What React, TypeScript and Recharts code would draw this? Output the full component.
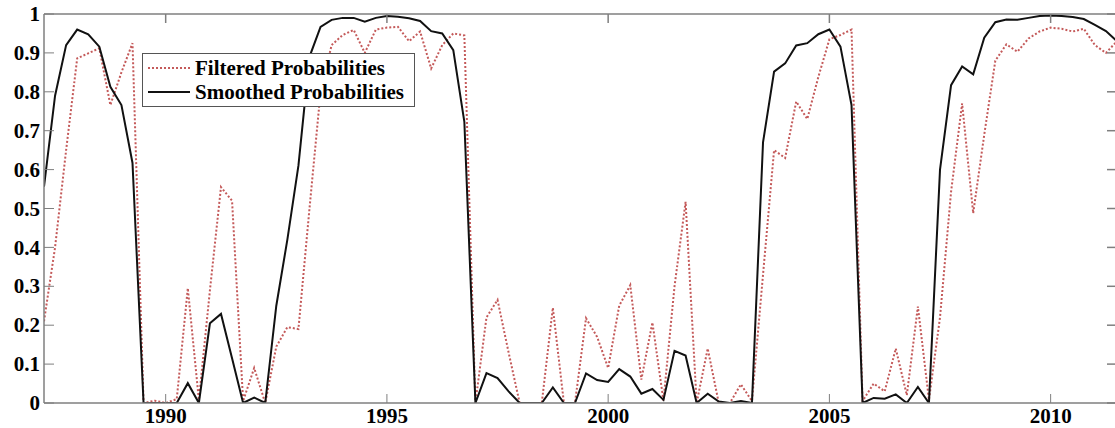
import { LineChart, Line, XAxis, YAxis, Legend } from "recharts";

// quarterly sample, first point is 1987 Q2
const startYear = 1987.25;
const quarterStep = 0.25;

const filtered = [
  0.21, 0.4, 0.65, 0.886, 0.899, 0.912, 0.766, 0.85, 0.925, 0.0,
  0.006, 0.0, 0.01, 0.295, 0.008, 0.29, 0.555, 0.52, 0.005, 0.09,
  0.0, 0.145, 0.195, 0.19, 0.5, 0.8, 0.92, 0.946, 0.959, 0.9,
  0.96, 0.965, 0.967, 0.93, 0.955, 0.86, 0.92, 0.95, 0.945, 0.0,
  0.22, 0.265, 0.13, 0.0, 0.0, 0.0, 0.245, 0.0, 0.0, 0.218,
  0.17, 0.09, 0.25, 0.303, 0.06, 0.207, 0.006, 0.3, 0.517, 0.0,
  0.14, 0.0, 0.0, 0.048, 0.005, 0.33, 0.65, 0.63, 0.775, 0.73,
  0.838, 0.935, 0.946, 0.96, 0.005, 0.05, 0.03, 0.14, 0.02, 0.248,
  0.008, 0.22, 0.543, 0.77, 0.488, 0.69, 0.88, 0.922, 0.903, 0.937,
  0.955, 0.965, 0.962, 0.955, 0.962, 0.92, 0.9, 0.93,
];

const smoothed = [
  0.556, 0.79, 0.92, 0.96, 0.948, 0.916, 0.813, 0.766, 0.617, 0.0,
  0.0, 0.0, 0.0, 0.051, 0.0, 0.205, 0.229, 0.115, 0.0, 0.014,
  0.0, 0.25, 0.42, 0.61, 0.89, 0.967, 0.985, 0.99, 0.99, 0.98,
  0.99, 0.995, 0.993, 0.989, 0.982, 0.956, 0.95, 0.907, 0.723, 0.0,
  0.077, 0.064, 0.03, 0.0, 0.0, 0.0, 0.04, 0.0, 0.0, 0.076,
  0.059, 0.054, 0.087, 0.068, 0.024, 0.036, 0.008, 0.134, 0.122, 0.0,
  0.024, 0.004, 0.0, 0.005, 0.0, 0.67, 0.852, 0.873, 0.919, 0.925,
  0.948, 0.96, 0.916, 0.766, 0.0, 0.013, 0.011, 0.022, 0.0, 0.041,
  0.0, 0.6, 0.817, 0.865, 0.845, 0.939, 0.979, 0.986, 0.985, 0.99,
  0.995, 0.996, 0.995, 0.992, 0.987, 0.972, 0.956, 0.93,
];

const yearTicks = [1990, 1995, 2000, 2005, 2010];
const probTicks = [0, 0.1, 0.2, 0.3, 0.4, 0.5, 0.6, 0.7, 0.8, 0.9, 1];

const data = smoothed.map((s, i) => ({
  t: startYear + i * quarterStep,
  filtered: filtered[i],
  smoothed: s,
}));

const xDomain = [startYear, startYear + (smoothed.length - 1) * quarterStep];

const serif = '"Liberation Serif", "Times New Roman", serif';
const labelStyle = { fontFamily: serif, fontWeight: 700, fontSize: 21, fill: "#000" };
const boxColor = "#7f7f7f";
const redColor = "#c45a5a";

const dashes: Record<string, string | undefined> = {
  filtered: "2 2",
  smoothed: undefined,
};

// inner tick marks only, no label
const noLabel = () => <g />;

const YearTick = (props: any) => (
  <text x={props.x} y={props.y} dy="0.75em" textAnchor="middle" style={labelStyle}>
    {props.payload.value}
  </text>
);

const ProbTick = (props: any) => (
  <text x={props.x} y={props.y} dy="0.34em" textAnchor="end" style={labelStyle}>
    {props.payload.value}
  </text>
);

const renderLegend = (props: any) => {
  const { payload = [] } = props;
  const shown = payload.filter((e: any) => e.type !== "none" && e.color !== "none");
  return (
    <div
      style={{
        width: 273,
        boxSizing: "border-box",
        border: "1px solid #555",
        background: "#fff",
        padding: "2px 0 2px 5px",
        fontFamily: serif,
        fontWeight: 700,
        fontSize: 21,
        color: "#000",
        whiteSpace: "nowrap",
      }}
    >
      {shown.map((entry: any) => (
        <div key={entry.value} style={{ display: "flex", alignItems: "center", height: 24 }}>
          <svg width={42} height={6} style={{ marginRight: 5 }}>
            <line
              x1={0}
              y1={3}
              x2={42}
              y2={3}
              stroke={entry.color}
              strokeWidth={2}
              strokeDasharray={dashes[entry.dataKey]}
            />
          </svg>
          <span>{entry.value}</span>
        </div>
      ))}
    </div>
  );
};

export default function App() {
  return (
    <div
      style={{
        position: "absolute",
        left: 0,
        top: 0,
        width: 1115,
        height: 428,
        overflow: "hidden",
        background: "#fff",
      }}
    >
      <LineChart
        width={1125}
        height={428}
        data={data}
        margin={{ top: 14, right: 8, bottom: 0, left: 0 }}
      >
        <XAxis
          dataKey="t"
          type="number"
          domain={xDomain}
          ticks={yearTicks}
          allowDataOverflow
          height={25}
          tickLine={false}
          tickSize={0}
          tickMargin={4}
          stroke={boxColor}
          strokeWidth={1.5}
          tick={<YearTick />}
        />
        <XAxis
          xAxisId="innerBottom"
          dataKey="t"
          orientation="bottom"
          mirror
          type="number"
          domain={xDomain}
          ticks={yearTicks}
          allowDataOverflow
          tick={noLabel}
          tickSize={9}
          axisLine={false}
          stroke={boxColor}
        />
        <XAxis
          xAxisId="top"
          dataKey="t"
          orientation="top"
          mirror
          type="number"
          domain={xDomain}
          ticks={yearTicks}
          allowDataOverflow
          tick={noLabel}
          tickSize={9}
          stroke={boxColor}
          strokeWidth={1.5}
        />
        <YAxis
          domain={[0, 1]}
          ticks={probTicks}
          allowDataOverflow
          width={44}
          tickLine={false}
          tickSize={0}
          tickMargin={4}
          stroke={boxColor}
          strokeWidth={1.5}
          tick={<ProbTick />}
        />
        <YAxis
          yAxisId="innerLeft"
          orientation="left"
          mirror
          domain={[0, 1]}
          ticks={probTicks}
          allowDataOverflow
          tick={noLabel}
          tickSize={10}
          axisLine={false}
          stroke={boxColor}
        />
        <YAxis
          yAxisId="right"
          orientation="right"
          mirror
          domain={[0, 1]}
          ticks={probTicks}
          allowDataOverflow
          tick={noLabel}
          tickSize={10}
          stroke={boxColor}
          strokeWidth={1.5}
        />
        <Legend
          content={renderLegend}
          layout="horizontal"
          verticalAlign="middle"
          align="center"
          wrapperStyle={{ left: 142, top: 53, width: 273 }}
        />
        {/* invisible copies so the tick-only axes get a scale */}
        <Line
          xAxisId="innerBottom"
          yAxisId="innerLeft"
          dataKey="smoothed"
          stroke="none"
          dot={false}
          activeDot={false}
          legendType="none"
          isAnimationActive={false}
        />
        <Line
          xAxisId="top"
          yAxisId="right"
          dataKey="smoothed"
          stroke="none"
          dot={false}
          activeDot={false}
          legendType="none"
          isAnimationActive={false}
        />
        <Line
          type="linear"
          dataKey="filtered"
          name="Filtered Probabilities"
          stroke={redColor}
          strokeWidth={2}
          strokeDasharray="2 2"
          dot={false}
          isAnimationActive={false}
        />
        <Line
          type="linear"
          dataKey="smoothed"
          name="Smoothed Probabilities"
          stroke="#111"
          strokeWidth={2}
          dot={false}
          isAnimationActive={false}
        />
      </LineChart>
    </div>
  );
}
